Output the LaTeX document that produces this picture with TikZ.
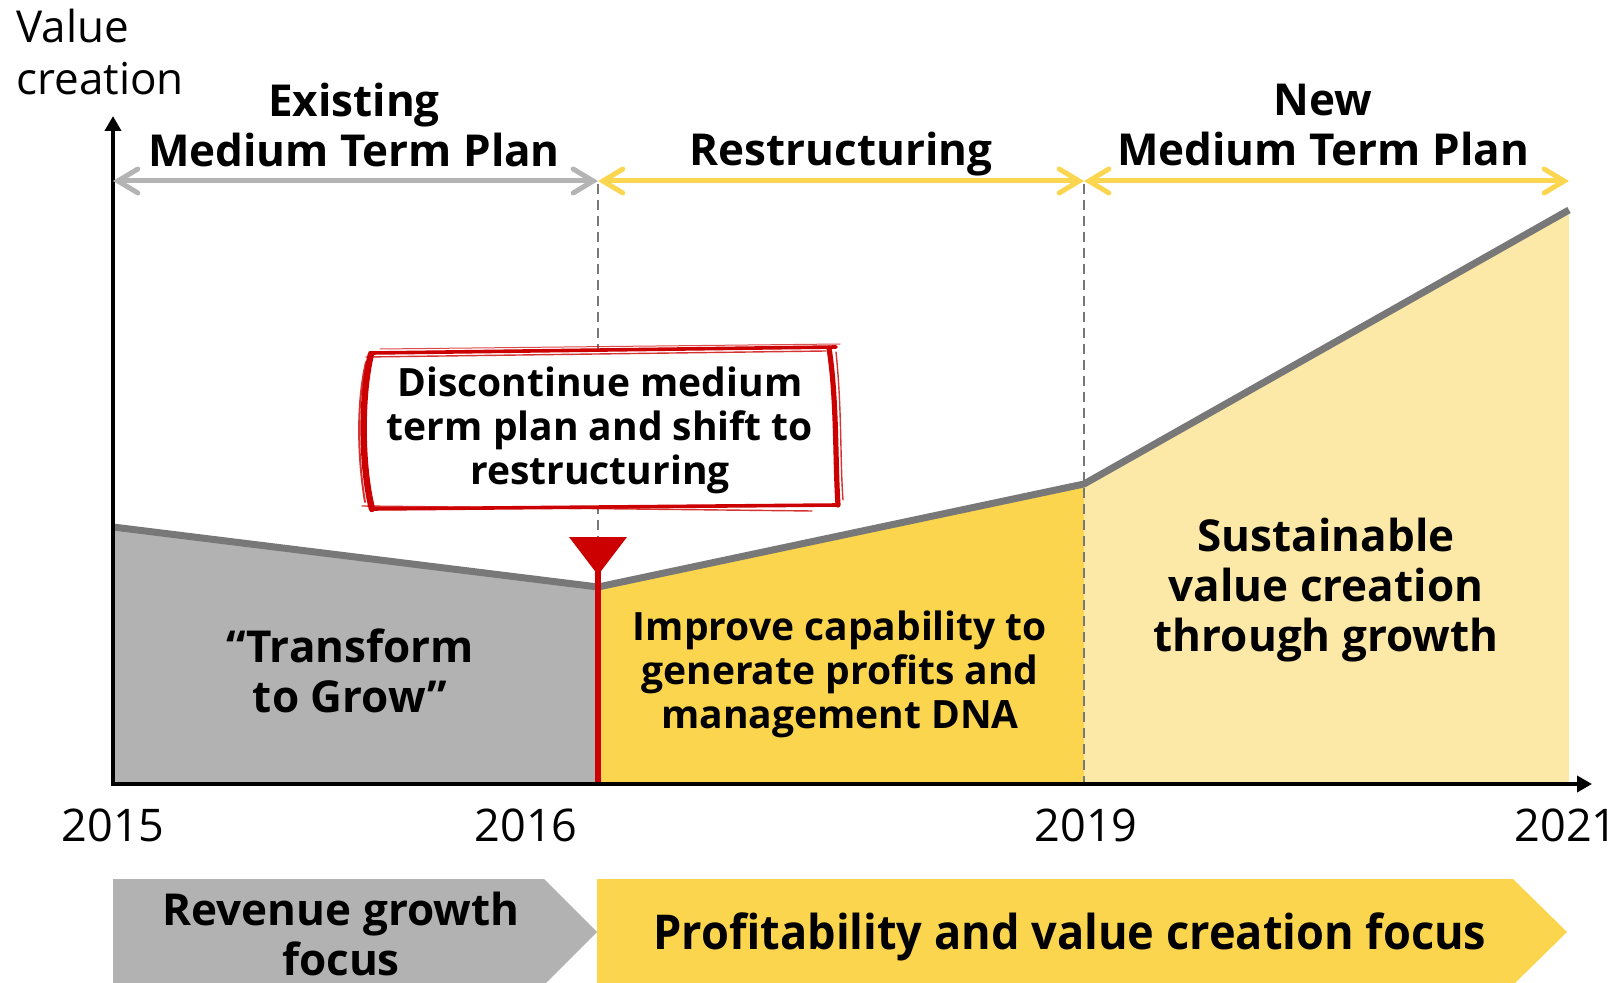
\documentclass[tikz,border=0pt]{standalone}
\usepackage{fontspec}
\setmainfont{Open Sans}
\usetikzlibrary{arrows.meta}
\definecolor{gfill}{HTML}{B2B2B2}
\definecolor{gline}{HTML}{787878}
\definecolor{yfill}{HTML}{FBD54E}
\definecolor{lyfill}{HTML}{FDE9A7}
\definecolor{redc}{HTML}{CC0000}
\definecolor{yarrow}{HTML}{FCD650}
\definecolor{garrow}{HTML}{B4B4B4}
\begin{document}
\begin{tikzpicture}[x=0.5pt,y=-0.5pt,
  hdr/.style={font=\fontsize{22}{25}\selectfont\bfseries, align=center, inner sep=0pt},
  midtxt/.style={font=\fontsize{19.5}{22}\selectfont\bfseries, align=center, inner sep=0pt},
  reg/.style={font=\fontsize{22}{26}\selectfont, inner sep=0pt},
  yr/.style={font=\fontsize{22.5}{26}\selectfont, inner sep=0pt},
  spanarrow/.style={line width=2.5pt, line cap=round,
     {Straight Barb[length=10pt,width=12pt,line cap=round]}-{Straight Barb[length=10pt,width=12pt,line cap=round]}},
  axisline/.style={line width=2pt, black, -{Triangle[length=7.5pt,width=8pt]}},
  divider/.style={gline, line width=1pt, dash pattern=on 5pt off 3pt},
  brush/.style={redc, line cap=round, line join=round},
  curve/.style={gline, line width=3.5pt, line join=round}
]
\useasboundingbox (0,0) rectangle (1621,983);

% key coordinates
\coordinate (O) at (113,784);
\coordinate (A) at (113,527);
\coordinate (B) at (598,587);
\coordinate (C) at (1084,484);
\coordinate (D) at (1569,210);
\coordinate (B0) at (598,784);
\coordinate (C0) at (1084,784);
\coordinate (D0) at (1569,784);

% area fills
\fill[gfill] (O) -- (A) -- (B) -- (B0) -- cycle;
\fill[yfill] (B0) -- (B) -- (C) -- (C0) -- cycle;
\fill[lyfill] (C0) -- (C) -- (D) -- (D0) -- cycle;
\draw[curve] (A) -- (B) -- (C) -- (D);

% dashed dividers
\coordinate (T1) at (598,184);
\coordinate (T2) at (1084,184);
\coordinate (R1) at (598,537);
\draw[divider] (T1) -- (R1);
\draw[divider] (T2) -- (C0);

% callout box with brush outline
\fill[white] (370,352) -- (836,347) -- (838,506) -- (372,510) -- cycle;
\draw[brush, line width=1.8pt] (372,353) -- (836,347);
\draw[brush, line width=0.7pt, opacity=0.8] (366,357) -- (826,351);
\draw[brush, line width=0.5pt, opacity=0.7] (380,349) -- (840,344);
\draw[brush, line width=1.8pt] (372,509) -- (838,505);
\draw[brush, line width=0.7pt, opacity=0.8] (362,506) -- (812,511);
\draw[brush, line width=3.2pt] (371,354) .. controls (361,395) and (361,465) .. (372,509);
\draw[brush, line width=1pt, opacity=0.8] (366,362) .. controls (356,405) and (358,460) .. (365,502);
\draw[brush, line width=2.6pt] (829,348) .. controls (837,400) and (835,460) .. (838,505);
\draw[brush, line width=0.7pt, opacity=0.8] (836,352) .. controls (842,410) and (840,460) .. (843,500);
\node[midtxt] (disc) at (600,430) {Discontinue medium\\term plan and shift to\\restructuring};

% red marker
\fill[redc] (569,537) -- (627,537) -- (598,575) -- cycle;
\draw[redc, line width=3pt] (598,565) -- (B0);

% axes
\draw[axisline] (113,786) -- (113,116);
\draw[axisline] (111,784) -- (1592,784);

% axis labels
\node[reg, align=left, anchor=west] (vc) at (16,52) {Value\\creation};
\node[yr] (y15) at (113,825) {2015};
\node[yr] (y16) at (526,825) {2016};
\node[yr] (y19) at (1086,825) {2019};
\node[yr] (y21) at (1566,825) {2021};

% period arrows
\draw[spanarrow, garrow] (113,181) -- (598,181);
\draw[spanarrow, yarrow] (598,181) -- (1084,181);
\draw[spanarrow, yarrow] (1084,181) -- (1569,181);
\node[hdr] (p1) at (354,125) {Existing\\Medium Term Plan};
\node[hdr] (p2) at (841,154) {Restructuring};
\node[hdr] (p3) at (1323,125) {New\\Medium Term Plan};

% area labels
\node[hdr] (t1) at (350,671) {“Transform\\to Grow”};
\node[midtxt] (t2) at (840,674) {Improve capability to\\generate profits and\\management DNA};
\node[hdr] (t3) at (1326,590) {Sustainable\\value creation\\through growth};

% bottom banners
\fill[gfill] (113,879) -- (544,879) -- (597,932) -- (544,985) -- (113,985) -- cycle;
\fill[yfill] (597,879) -- (1513,879) -- (1567,932) -- (1513,985) -- (597,985) -- cycle;
\node[hdr] (b1) at (341,934) {Revenue growth\\focus};
\node[inner sep=0pt] (b2) at (1070,937) {\scalebox{0.94}[1]{\fontsize{24}{26}\selectfont\bfseries Profitability and value creation focus}};
\end{tikzpicture}
\end{document}
